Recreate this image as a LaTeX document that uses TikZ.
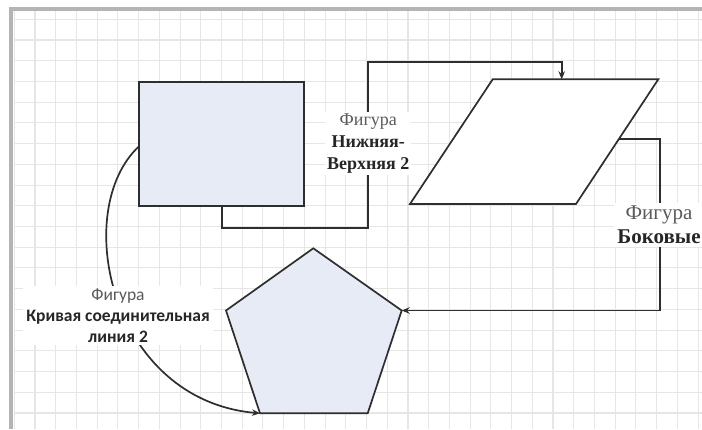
\documentclass[tikz,border=0pt]{standalone}
\usepackage{fontspec}
\setmainfont{Liberation Serif}
\newfontfamily\serf{Liberation Serif}
\newfontfamily\carl{Carlito}
\usetikzlibrary{arrows.meta}
\definecolor{gridc}{HTML}{E6E6E6}
\definecolor{framec}{HTML}{B4B4B4}
\definecolor{shapefill}{HTML}{E6EBF6}
\definecolor{linec}{HTML}{2E2E2E}
\definecolor{lblgray}{HTML}{5A5A5A}
\definecolor{lbldark}{HTML}{262626}
\tikzset{
  shapeline/.style={draw=linec, line width=1.7pt, line join=miter},
  conn/.style={draw=linec, line width=1.7pt},
  tip/.style={-{Stealth[length=8pt,width=6.5pt]}},
  seriflbl/.style={fill=white, inner sep=2pt, align=center, font=\serf\fontsize{18}{22}\selectfont},
  sanslbl/.style={fill=white, inner sep=3pt, align=center, font=\carl\fontsize{17.5}{21}\selectfont},
}
\begin{document}
\begin{tikzpicture}[x=1pt,y=-1pt]
\useasboundingbox (0,0) rectangle (702,429);
\fill[white] (0,0) rectangle (702,429);
% grid
\begin{scope}
\clip (14,11) rectangle (702,429);
\foreach \k in {0,...,33} {
  \draw[gridc, line width=1.1pt] ({14.3+20.72*\k},11) -- ({14.3+20.72*\k},429);
}
\foreach \k in {0,...,20} {
  \draw[gridc, line width=1.1pt] (14,{19.3+20.72*\k}) -- (702,{19.3+20.72*\k});
}
\end{scope}
% frame
\fill[framec] (9,6.5) rectangle (702,10.5);
\fill[framec] (9,6.5) rectangle (13,429);

% rectangle
\node[shapeline, fill=shapefill, minimum width=165pt, minimum height=124pt, inner sep=0pt] (rect) at (221.5,144) {};

% parallelogram
\coordinate (pTL) at (492.7,79.3);
\coordinate (pTR) at (658.3,79.3);
\coordinate (pBR) at (576,204);
\coordinate (pBL) at (410,204);
\draw[shapeline, fill=white] (pTL) -- (pTR) -- (pBR) -- (pBL) -- cycle;
\coordinate (pTop) at (561.7,79.3);
\coordinate (pRight) at (618.7,139.3);

% pentagon
\coordinate (gT) at (313.3,248.3);
\coordinate (gR) at (401.7,310.5);
\coordinate (gBR) at (367.7,413.3);
\coordinate (gBL) at (260,413.3);
\coordinate (gL) at (226,310.5);
\draw[shapeline, fill=shapefill] (gT) -- (gR) -- (gBR) -- (gBL) -- (gL) -- cycle;

% connector 1: bottom-top
\coordinate (rBot) at (222.3,206);
\draw[conn, tip] (rBot) -- (222.3,227.7) -- (368.3,227.7) -- (368.3,61.7) -- (561.7,61.7) -- (pTop);
\node[seriflbl] (lbl1) at (368.3,143.5) {\textcolor{lblgray}{Фигура}\\\textcolor{lbldark}{\bfseries Нижняя-}\\\textcolor{lbldark}{\bfseries Верхняя 2}};

% connector 2: sides
\draw[conn, tip] (pRight) -- (660,139.3) -- (660,310.5) -- (gR);
\node[seriflbl, inner sep=3pt, font=\serf\fontsize{21}{24}\selectfont] (lbl2) at (659,225) {\textcolor{lblgray}{Фигура}\\\textcolor{lbldark}{\bfseries Боковые}};

% connector 3: curved
\coordinate (rLeft) at (139.3,146);
\draw[conn, tip] (rLeft) .. controls (70,210) and (110,400) .. (gBL);
\node[sanslbl] (lbl3) at (118,315.5) {\textcolor{lblgray}{Фигура}\\\textcolor{lbldark}{\bfseries Кривая соединительная}\\\textcolor{lbldark}{\bfseries линия 2}};
\end{tikzpicture}
\end{document}
